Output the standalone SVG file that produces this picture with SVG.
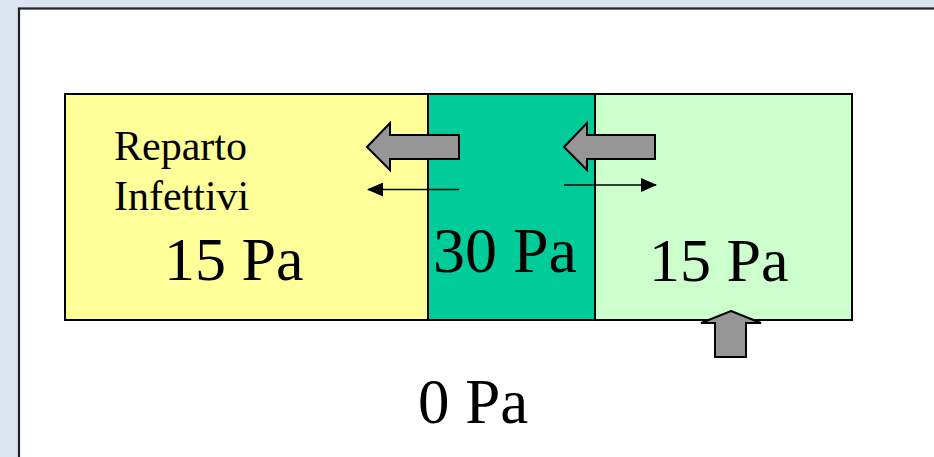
<svg xmlns="http://www.w3.org/2000/svg" width="934" height="457" viewBox="0 0 934 457">
  <defs>
    <style>
      .big { fill:#969696; stroke:#000; stroke-width:2; stroke-linejoin:miter; }
      .thin { stroke:#000; stroke-width:1.5; fill:none; marker-end:url(#ah); }
      .box { stroke:#000; stroke-width:2; }
      text { font-family:"Liberation Serif","Times New Roman",serif; fill:#000; }
    </style>
    <marker id="ah" markerWidth="16" markerHeight="14" refX="15" refY="7" orient="auto" markerUnits="userSpaceOnUse">
      <path d="M0,0 L16,7 L0,14 Z" fill="#000"/>
    </marker>
  </defs>
  <rect x="0" y="0" width="934" height="457" fill="#DAE5F1"/>
  <rect x="19" y="8.5" width="930" height="460" fill="#FFFFFF" stroke="#222" stroke-width="2.2"/>

  <g id="yellow-room">
    <rect class="box" x="65" y="94" width="363" height="226" fill="#FFFF99"/>
    <text x="114" y="160" font-size="42">Reparto</text>
    <text x="114" y="210" font-size="42">Infettivi</text>
    <text x="164" y="280" font-size="62">15 Pa</text>
  </g>
  <g id="filter-room">
    <rect class="box" x="428" y="94" width="167" height="226" fill="#00CC99"/>
    <text x="433" y="272" font-size="64">30 Pa</text>
  </g>
  <g id="green-room">
    <rect class="box" x="595" y="94" width="257" height="226" fill="#CCFFCC"/>
    <text x="649" y="281" font-size="62">15 Pa</text>
  </g>
  <g id="outside">
    <text x="418" y="423" font-size="63">0 Pa</text>
  </g>

  <g id="connectors">
    <polygon class="big" points="367,147 390,123 390,135 459,135 459,159 390,159 390,170"/>
    <polygon class="big" points="564,147 587,123 587,135 655,135 655,159 587,159 587,170"/>
    <polygon class="big" points="731,311 761,323 746,323 746,357 715,357 715,323 701,323"/>
    <line class="thin" x1="459" y1="189.5" x2="368" y2="189.5"/>
    <line class="thin" x1="564" y1="185" x2="656" y2="185"/>
  </g>
</svg>
